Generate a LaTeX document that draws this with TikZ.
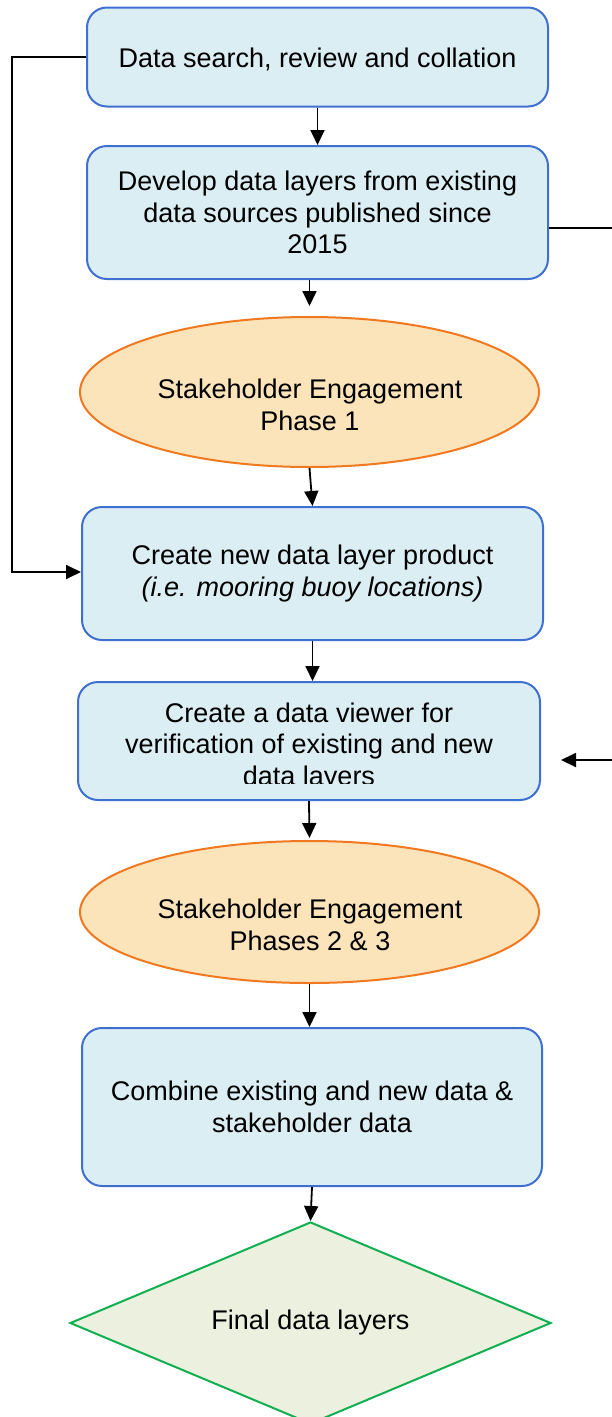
\documentclass[tikz,border=0pt]{standalone}
\usepackage{fontspec}
\setmainfont{Liberation Sans}
\usetikzlibrary{shapes.geometric,arrows.meta,calc}
\definecolor{boxfill}{HTML}{DAEEF3}
\definecolor{boxline}{HTML}{3F6FD0}
\definecolor{ellfill}{HTML}{FCE4BA}
\definecolor{ellline}{HTML}{F0781E}
\definecolor{diafill}{HTML}{EBF1DE}
\definecolor{dialine}{HTML}{10B050}
\begin{document}
\begin{tikzpicture}[x=1pt,y=-1pt,
  txt/.style={align=center, inner sep=0pt, font=\fontsize{27}{31.5}\selectfont},
  procbox/.style={txt, draw=boxline, fill=boxfill, line width=2pt, rounded corners=20pt},
  termell/.style={ellipse, draw=ellline, fill=ellfill, line width=2pt, inner sep=0pt},
  finaldia/.style={txt, diamond, draw=dialine, fill=diafill, line width=2pt},
  conn/.style={line width=1.8pt, -{Triangle[length=15pt,width=14pt]}},
  plain/.style={line width=1.8pt}]
\useasboundingbox (0,0) rectangle (612,1417);

\node[procbox, minimum width=461pt, minimum height=99pt] (b1) at (317.5,57) {};
\node[txt] (b1t) at (317.5,59) {Data search, review and collation};
\node[procbox, minimum width=461pt, minimum height=133pt] (b2) at (317.5,212.5) {Develop data layers from existing\\data sources published since\\2015};
\node[termell, minimum width=459pt, minimum height=150pt] (e1) at (309.5,392) {};
\node[txt] (e1t) at (310,405) {Stakeholder Engagement\\Phase 1};
\node[procbox, minimum width=461pt, minimum height=133pt] (b3) at (312.5,573.5) {Create new data layer product\\\textit{(i.e. mooring buoy locations)}};
\node[procbox, minimum width=462pt, minimum height=118pt] (b4) at (309,741) {};
\begin{scope}
  \clip (60,682) rectangle (560,783);
  \node[txt] (b4t) at (309,747) {Create a data viewer for\\verification of existing and new\\data layers};
\end{scope}
\node[termell, minimum width=459pt, minimum height=142pt] (e2) at (309.5,912) {};
\node[txt] (e2t) at (310,925) {Stakeholder Engagement\\Phases 2 \& 3};
\node[procbox, minimum width=460pt, minimum height=158pt] (b5) at (312,1107) {Combine existing and new data \&\\stakeholder data};
\node[finaldia, minimum width=481pt, minimum height=202pt, shape aspect=2.38] (d) at (310.5,1323) {Final data layers};

% main flow
\draw[conn] (b1.south) -- (b2.north);
\draw[conn, shorten >=10pt] (e1.north |- b2.south) -- (e1.north);
\draw[conn] (e1.south) -- (b3.north);
\draw[conn] (b3.south) -- (b3.south |- b4.north);
\draw[conn, shorten >=2pt] (b4.south) -- (e2.north);
\draw[conn] (e2.south) -- (e2.south |- b5.north);
\draw[conn] (b5.south) -- (d.north);

% left loop
\coordinate (l1) at (12,57);
\coordinate (l2) at (12,572);
\draw[conn] (b1.west) -- (l1) -- (l2) -- (b3.west |- l2);

% right side (runs off the picture)
\coordinate (r1) at (612,228);
\draw[plain] (b2.east |- r1) -- (r1);
\coordinate (r2) at (612,760);
\coordinate (r2tip) at (561,760);
\draw[conn] (r2) -- (r2tip);
\end{tikzpicture}
\end{document}
